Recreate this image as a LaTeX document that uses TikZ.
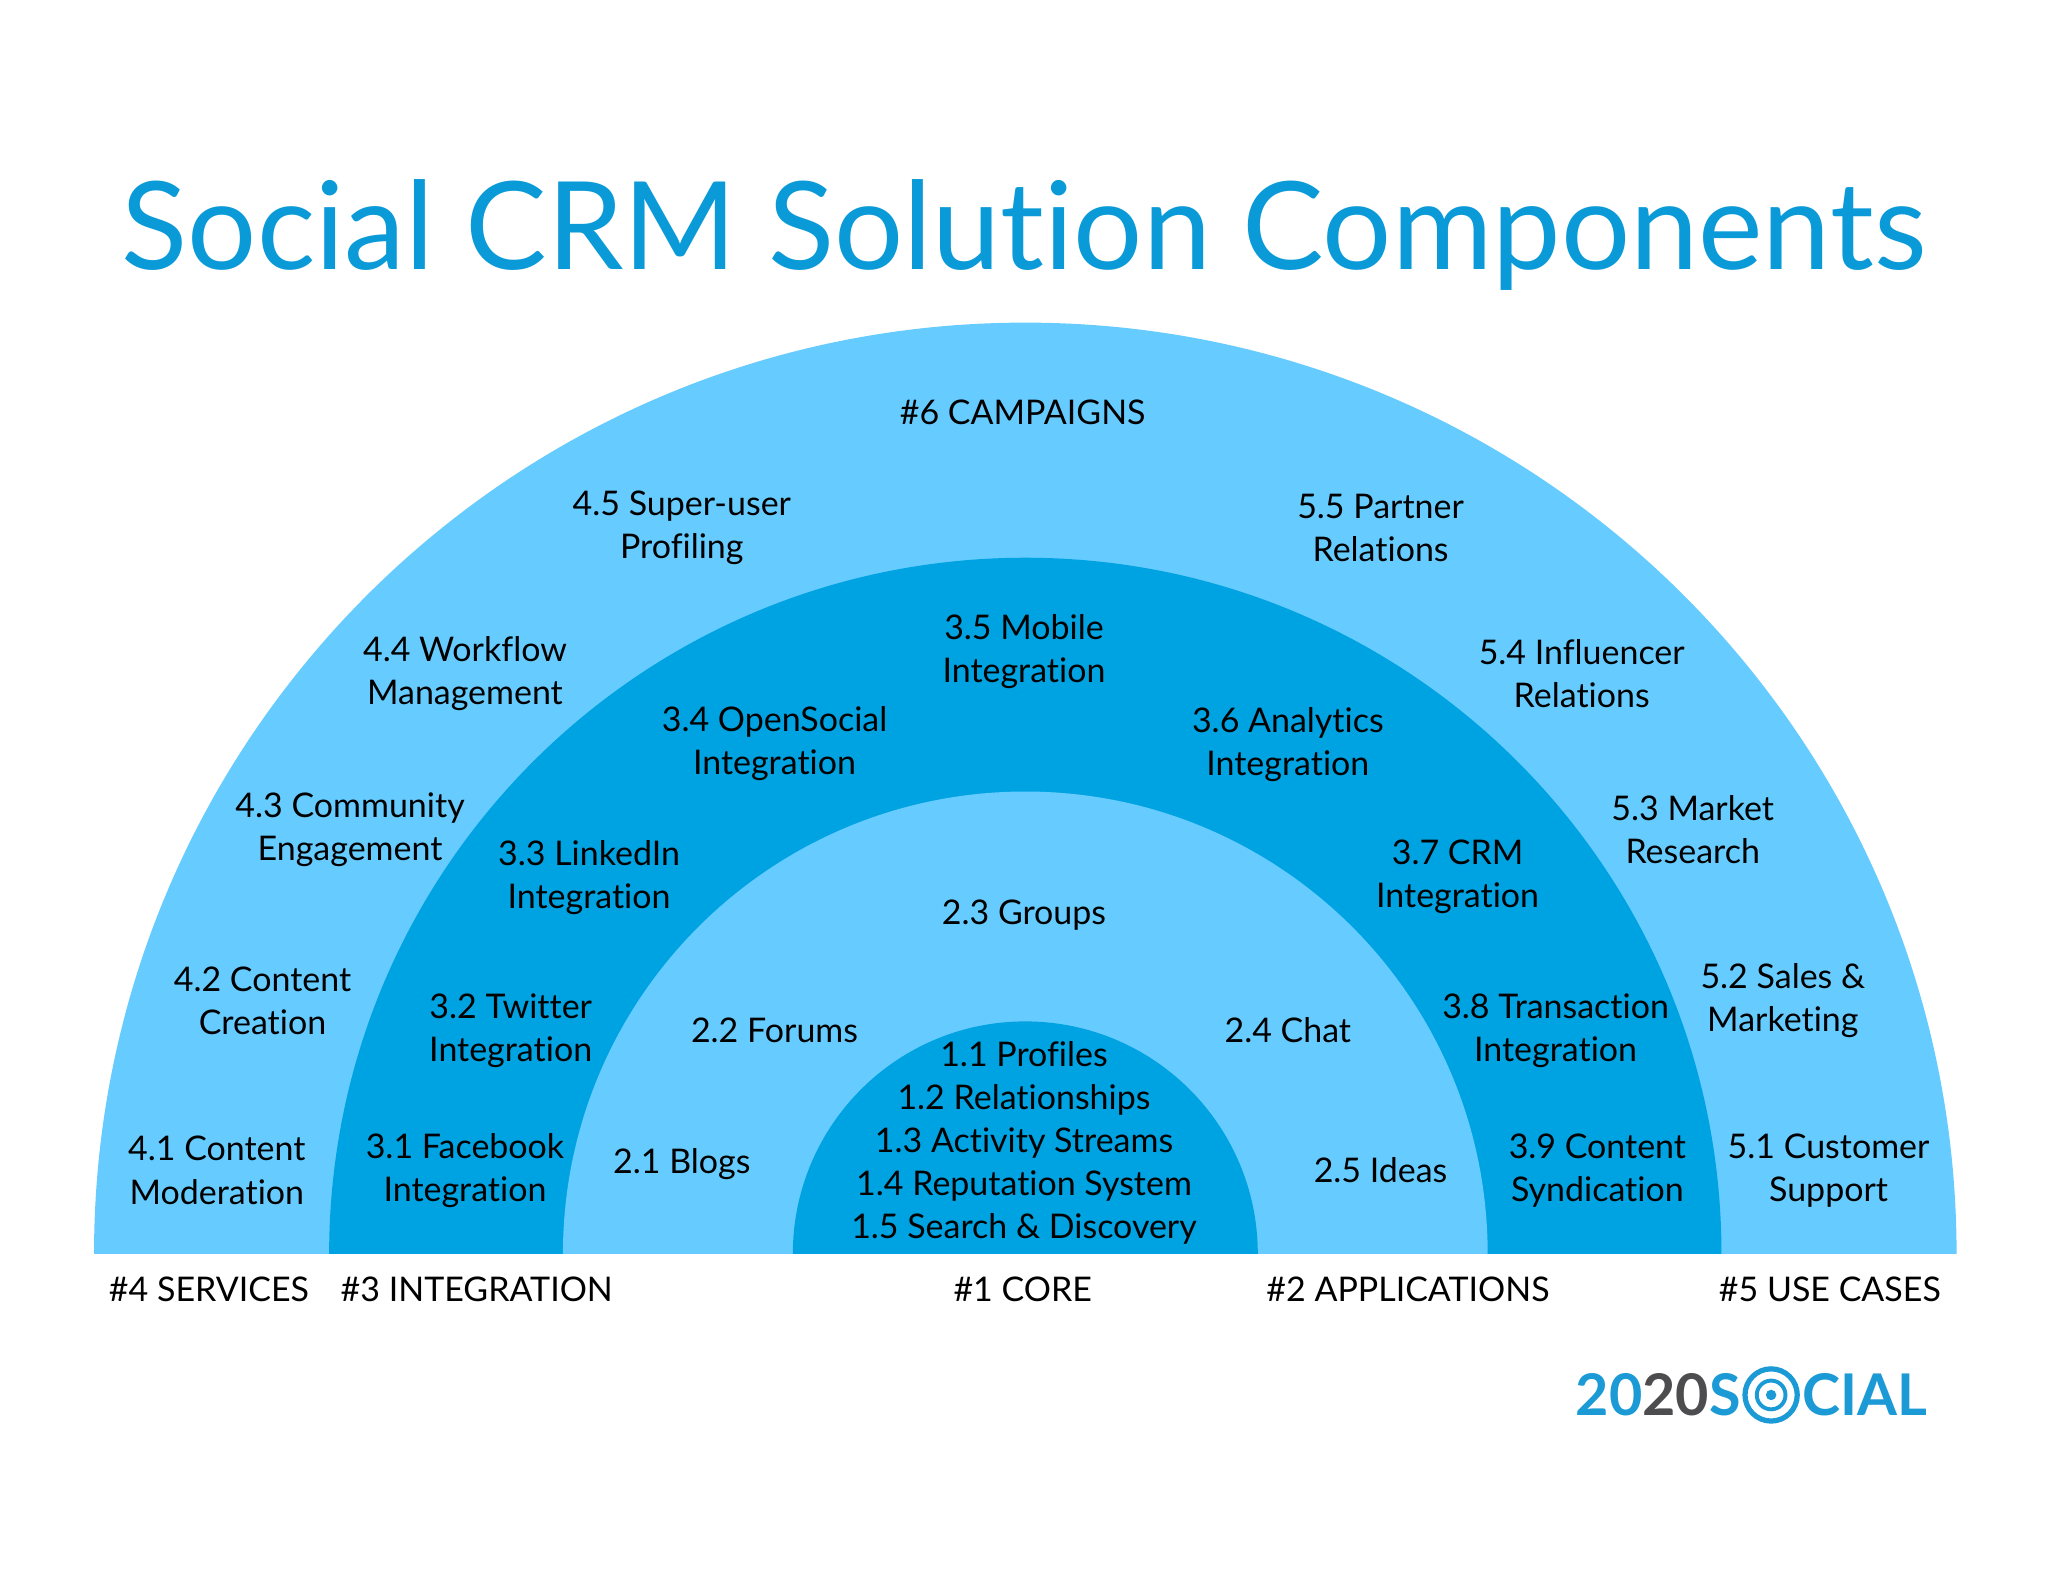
\documentclass[tikz,border=0pt]{standalone}
\usepackage{fontspec}
\setmainfont{Lato}[Ligatures={NoCommon,NoRare,NoDiscretionary}]
\definecolor{lightb}{HTML}{66CCFF}
\definecolor{darkb}{HTML}{00A3E2}
\definecolor{titleb}{HTML}{0A9AD8}
\definecolor{logob}{HTML}{1B9AD6}
\definecolor{logog}{HTML}{4D4D4F}
\tikzset{lbl/.style={align=center,font=\fontsize{26}{33}\selectfont,text=black,inner sep=0pt}}
\begin{document}
\begin{tikzpicture}[x=1pt,y=-1pt]
\useasboundingbox (0,0) rectangle (1568,1211);
\fill[white] (0,0) rectangle (1568,1211);
\coordinate (c) at (785,960);
\fill[lightb] (c) ++(-713,0) arc[start angle=180,end angle=360,radius=713] -- cycle;
\fill[darkb] (c) ++(-533,0) arc[start angle=180,end angle=360,radius=533] -- cycle;
\fill[lightb] (c) ++(-354,0) arc[start angle=180,end angle=360,radius=354] -- cycle;
\fill[darkb] (c) ++(-178,0) arc[start angle=180,end angle=360,radius=178] -- cycle;
\node[font=\fontsize{93.5}{100}\selectfont,text=titleb] (title) at (784,180) {Social CRM Solution Components};
\node[lbl] (n6) at (783,316) {\#6 CAMPAIGNS};
\node[lbl] (n45) at (522,404) {4.5 Super-user\\Profiling};
\node[lbl] (n55) at (1057,404) {5.5 Partner\\Relations};
\node[lbl] (n44) at (356,516) {4.4 Workflow\\Management};
\node[lbl] (n54) at (1211,516) {5.4 Influencer\\Relations};
\node[lbl] (n43) at (268,635) {4.3 Community\\Engagement};
\node[lbl] (n53) at (1296,635) {5.3 Market\\Research};
\node[lbl] (n42) at (201,766) {4.2 Content\\Creation};
\node[lbl] (n52) at (1365,766) {5.2 Sales \&\\Marketing};
\node[lbl] (n41) at (166,896) {4.1 Content\\Moderation};
\node[lbl] (n51) at (1400,896) {5.1 Customer\\Support};
\node[lbl] (n35) at (784,499) {3.5 Mobile\\Integration};
\node[lbl] (n34) at (593,569) {3.4 OpenSocial\\Integration};
\node[lbl] (n36) at (986,570) {3.6 Analytics\\Integration};
\node[lbl] (n33) at (451,672) {3.3 LinkedIn\\Integration};
\node[lbl] (n37) at (1116,671) {3.7 CRM\\Integration};
\node[lbl] (n32) at (391,789) {3.2 Twitter\\Integration};
\node[lbl] (n38) at (1191,789) {3.8 Transaction\\Integration};
\node[lbl] (n31) at (356,896) {3.1 Facebook\\Integration};
\node[lbl] (n39) at (1223,896) {3.9 Content\\Syndication};
\node[lbl] (n23) at (784,701) {2.3 Groups};
\node[lbl] (n22) at (593,789) {2.2 Forums};
\node[lbl] (n24) at (986,789) {2.4 Chat};
\node[lbl] (n21) at (522,891) {2.1 Blogs};
\node[lbl] (n25) at (1057,896) {2.5 Ideas};
\node[lbl] (n1) at (784,875) {1.1 Profiles\\1.2 Relationships\\1.3 Activity Streams\\1.4 Reputation System\\1.5 Search \& Discovery};
\node[lbl] (b4) at (160,987) {\#4 SERVICES};
\node[lbl] (b3) at (365,987) {\#3 INTEGRATION};
\node[lbl] (b1) at (783,987) {\#1 CORE};
\node[lbl] (b2) at (1078,987) {\#2 APPLICATIONS};
\node[lbl] (b5) at (1401,987) {\#5 USE CASES};
% logo
\node[font=\fontsize{44}{44}\selectfont\bfseries,inner sep=0pt,anchor=east] (lg1) at (1333,1068) {\textcolor{logob}{20}\textcolor{logog}{20}\textcolor{logob}{S}};
\node[font=\fontsize{44}{44}\selectfont\bfseries,inner sep=0pt,anchor=west,text=logob] (lg2) at (1380,1068) {CIAL};
\draw[logob,line width=4] (1356,1068) circle (20);
\draw[logob,line width=3] (1356,1068) circle (11);
\fill[logob] (1356,1068) circle (4);
\end{tikzpicture}
\end{document}
